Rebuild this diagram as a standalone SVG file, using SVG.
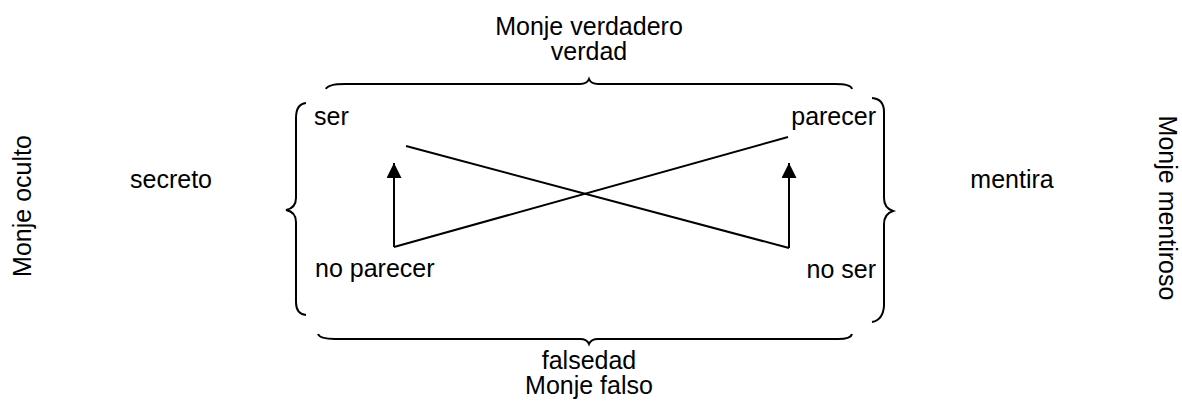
<svg xmlns="http://www.w3.org/2000/svg" width="1182" height="404" viewBox="0 0 1182 404">
  <defs>
    <marker id="head" viewBox="0 0 10 10" refX="10" refY="5" markerWidth="15" markerHeight="15" markerUnits="userSpaceOnUse" orient="auto">
      <path d="M0,0 L10,5 L0,10 Z" fill="#000"/>
    </marker>
    <style>
      text { font-family: "Liberation Sans", Arial, sans-serif; font-size: 25px; fill: #000; }
      .mid { text-anchor: middle; }
      .brace { fill: none; stroke: #000; stroke-width: 2; }
      .link { fill: none; stroke: #000; stroke-width: 2; }
    </style>
  </defs>
  <rect width="1182" height="404" fill="#fff"/>

  <!-- braces -->
  <g id="braces">
    <path class="brace" d="M326,89 Q328,84 345,84 L580,84 Q587,84 589,79 Q591,84 598,84 L835,84 Q851,84 852,89"/>
    <path class="brace" d="M318,334 Q320,339 335,339 L580,339 Q587,339 589,344 Q591,339 598,339 L838,339 Q851,339 852,334"/>
    <path class="brace" d="M306,103 Q296,104 296,118 L296,198 Q296,208 286,210 Q296,212 296,222 L296,302 Q296,314 306,315"/>
    <path class="brace" d="M872,98 Q884,99 884,112 L884,198 Q884,208 893,211 Q884,214 884,224 L884,306 Q883,320 872,322"/>
  </g>

  <!-- connectors -->
  <g id="connectors">
    <line class="link" x1="406" y1="146" x2="789" y2="248"/>
    <line class="link" x1="394" y1="247" x2="788" y2="137"/>
    <line class="link" x1="394" y1="247" x2="394" y2="163" marker-end="url(#head)"/>
    <line class="link" x1="789" y1="248" x2="789" y2="163" marker-end="url(#head)"/>
  </g>

  <!-- corner terms -->
  <g id="ser"><text x="314" y="125">ser</text></g>
  <g id="parecer"><text x="876" y="125" text-anchor="end">parecer</text></g>
  <g id="no-parecer"><text x="315" y="277">no parecer</text></g>
  <g id="no-ser"><text x="876" y="278" text-anchor="end">no ser</text></g>

  <!-- side labels -->
  <g id="top-label">
    <text class="mid" x="589" y="35">Monje verdadero</text>
    <text class="mid" x="589" y="60">verdad</text>
  </g>
  <g id="bottom-label">
    <text class="mid" x="589" y="369">falsedad</text>
    <text class="mid" x="589" y="394">Monje falso</text>
  </g>
  <g id="left-label">
    <text class="mid" x="171" y="188">secreto</text>
    <text class="mid" transform="translate(31,206) rotate(-90)">Monje oculto</text>
  </g>
  <g id="right-label">
    <text class="mid" x="1012" y="188">mentira</text>
    <text class="mid" transform="translate(1159,208) rotate(90)">Monje mentiroso</text>
  </g>
</svg>
